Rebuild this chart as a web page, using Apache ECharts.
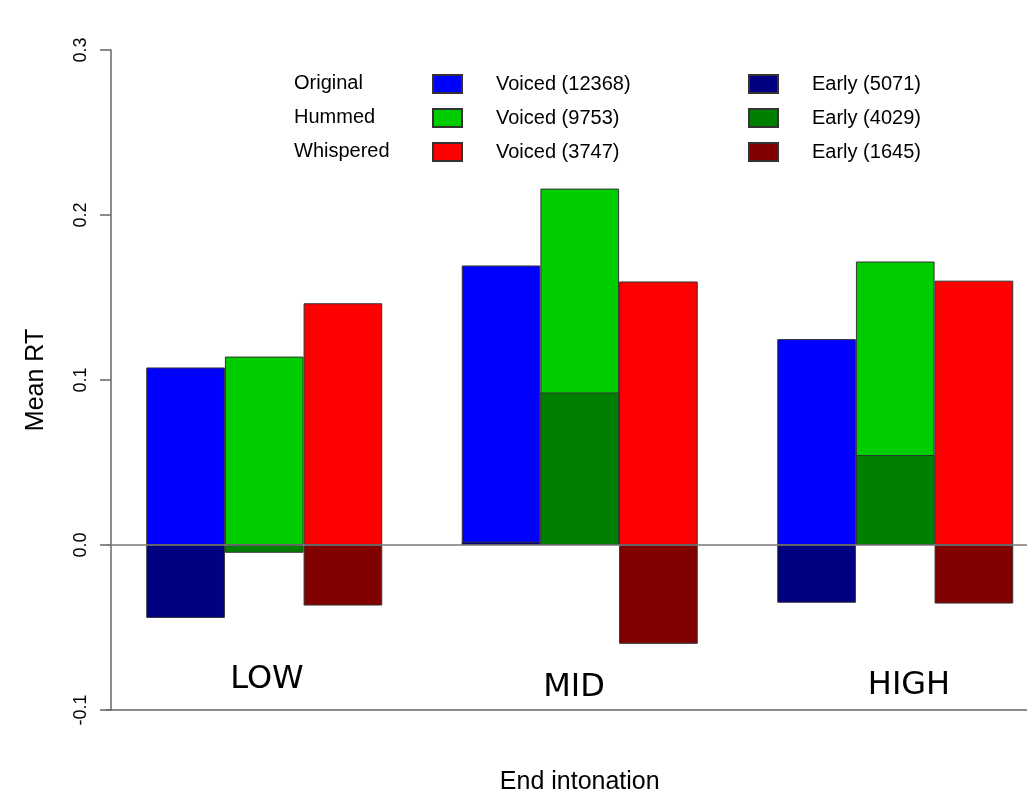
<!DOCTYPE html>
<html>
<head>
<meta charset="utf-8">
<script src="https://cdn.jsdelivr.net/npm/echarts@6/dist/echarts.min.js"></script>
<style>
  html, body { margin: 0; padding: 0; background: #ffffff; }
  #chart { width: 1027px; height: 800px; }
</style>
</head>
<body>
<div id="chart"></div>
<script>
// ---- data ----
var categories = ['LOW', 'MID', 'HIGH'];
var conditions = ['Original', 'Hummed', 'Whispered'];
var voicedNames = ['Voiced (12368)', 'Voiced (9753)', 'Voiced (3747)'];
var earlyNames = ['Early (5071)', 'Early (4029)', 'Early (1645)'];
var voicedOriginal = [0.1076, 0.1694, 0.1248];
var voicedHummed = [0.1142, 0.2160, 0.1718];
var voicedWhispered = [0.1465, 0.1597, 0.1602];
var earlyOriginal = [-0.0442, 0.0020, -0.0350];
var earlyHummed = [-0.0047, 0.0924, 0.0545];
var earlyWhispered = [-0.0367, -0.0599, -0.0355];
var yTicks = [-0.1, 0.0, 0.1, 0.2, 0.3];

var voicedColors = ['#0000FF', '#00CD00', '#FF0000'];
var earlyColors = ['#000080', '#008000', '#800000'];
var FONT = 'Liberation Sans, Arial, sans-serif';

var chart = echarts.init(document.getElementById('chart'), null, { renderer: 'canvas' });

function barSeries(name, data, color, axisIdx) {
  return {
    name: name,
    type: 'bar',
    xAxisIndex: axisIdx,
    data: data,
    barGap: 0,
    barCategoryGap: '25.2%',
    itemStyle: { color: color, borderColor: '#333333', borderWidth: 1 },
    emphasis: { disabled: true },
    animation: false
  };
}

var series = [
  barSeries(voicedNames[0], voicedOriginal, voicedColors[0], 0),
  barSeries(voicedNames[1], voicedHummed, voicedColors[1], 0),
  barSeries(voicedNames[2], voicedWhispered, voicedColors[2], 0),
  barSeries(earlyNames[0], earlyOriginal, earlyColors[0], 1),
  barSeries(earlyNames[1], earlyHummed, earlyColors[1], 1),
  barSeries(earlyNames[2], earlyWhispered, earlyColors[2], 1)
];
series[5].markLine = {
  silent: true,
  symbol: 'none',
  label: { show: false },
  lineStyle: { color: '#777777', width: 1.5, type: 'solid' },
  data: [{ yAxis: 0 }],
  animation: false
};

var legendText = { fontFamily: FONT, fontSize: 20, color: '#000000', padding: [0, 0, 0, 29] };

var option = {
  backgroundColor: '#ffffff',
  animation: false,
  textStyle: { fontFamily: FONT },
  grid: { left: 106.5, top: 50, width: 946.5, height: 660, containLabel: false, outerBoundsMode: 'none' },
  xAxis: [
    {
      type: 'category',
      data: categories,
      axisLine: { show: true, onZero: false, lineStyle: { color: '#666666', width: 1.5 } },
      axisTick: { show: false },
      axisLabel: { show: false },
      splitLine: { show: false },
      name: 'End intonation',
      nameLocation: 'middle',
      nameGap: 60,
      nameTextStyle: { fontFamily: FONT, fontSize: 25, color: '#000000' }
    },
    {
      type: 'category',
      data: categories,
      show: false
    }
  ],
  yAxis: {
    type: 'value',
    min: yTicks[0],
    max: yTicks[yTicks.length - 1],
    interval: 0.1,
    offset: -4.5,
    axisLine: { show: true, lineStyle: { color: '#666666', width: 1.5 } },
    axisTick: { show: true, length: 11, lineStyle: { color: '#666666', width: 1.5 } },
    axisLabel: {
      rotate: 90,
      margin: 21,
      fontFamily: FONT,
      fontSize: 18,
      color: '#000000',
      formatter: function (v) { return v.toFixed(1); }
    },
    splitLine: { show: false },
    name: 'Mean RT',
    nameLocation: 'middle',
    nameRotate: 90,
    nameGap: 62,
    nameTextStyle: { fontFamily: FONT, fontSize: 25, color: '#000000' }
  },
  legend: [
    {
      data: voicedNames,
      orient: 'vertical',
      left: 432,
      top: 74,
      padding: 0,
      icon: 'rect',
      itemWidth: 29,
      itemHeight: 18,
      itemGap: 14,
      selectedMode: false,
      textStyle: legendText
    },
    {
      data: earlyNames,
      orient: 'vertical',
      left: 748,
      top: 74,
      padding: 0,
      icon: 'rect',
      itemWidth: 29,
      itemHeight: 18,
      itemGap: 14,
      selectedMode: false,
      textStyle: legendText
    }
  ],
  graphic: [
    { type: 'text', left: 294, top: 73, style: { text: conditions[0], font: '20px ' + FONT, fill: '#000' } },
    { type: 'text', left: 294, top: 107, style: { text: conditions[1], font: '20px ' + FONT, fill: '#000' } },
    { type: 'text', left: 294, top: 141, style: { text: conditions[2], font: '20px ' + FONT, fill: '#000' } },
    { type: 'text', x: 267, y: 680, style: { text: categories[0], font: '32px DejaVu Sans', fill: '#000', align: 'center', verticalAlign: 'middle' } },
    { type: 'text', x: 574, y: 688, style: { text: categories[1], font: '32px DejaVu Sans', fill: '#000', align: 'center', verticalAlign: 'middle' } },
    { type: 'text', x: 909, y: 686, style: { text: categories[2], font: '32px DejaVu Sans', fill: '#000', align: 'center', verticalAlign: 'middle' } }
  ],
  series: series
};

chart.setOption(option);
</script>
</body>
</html>
